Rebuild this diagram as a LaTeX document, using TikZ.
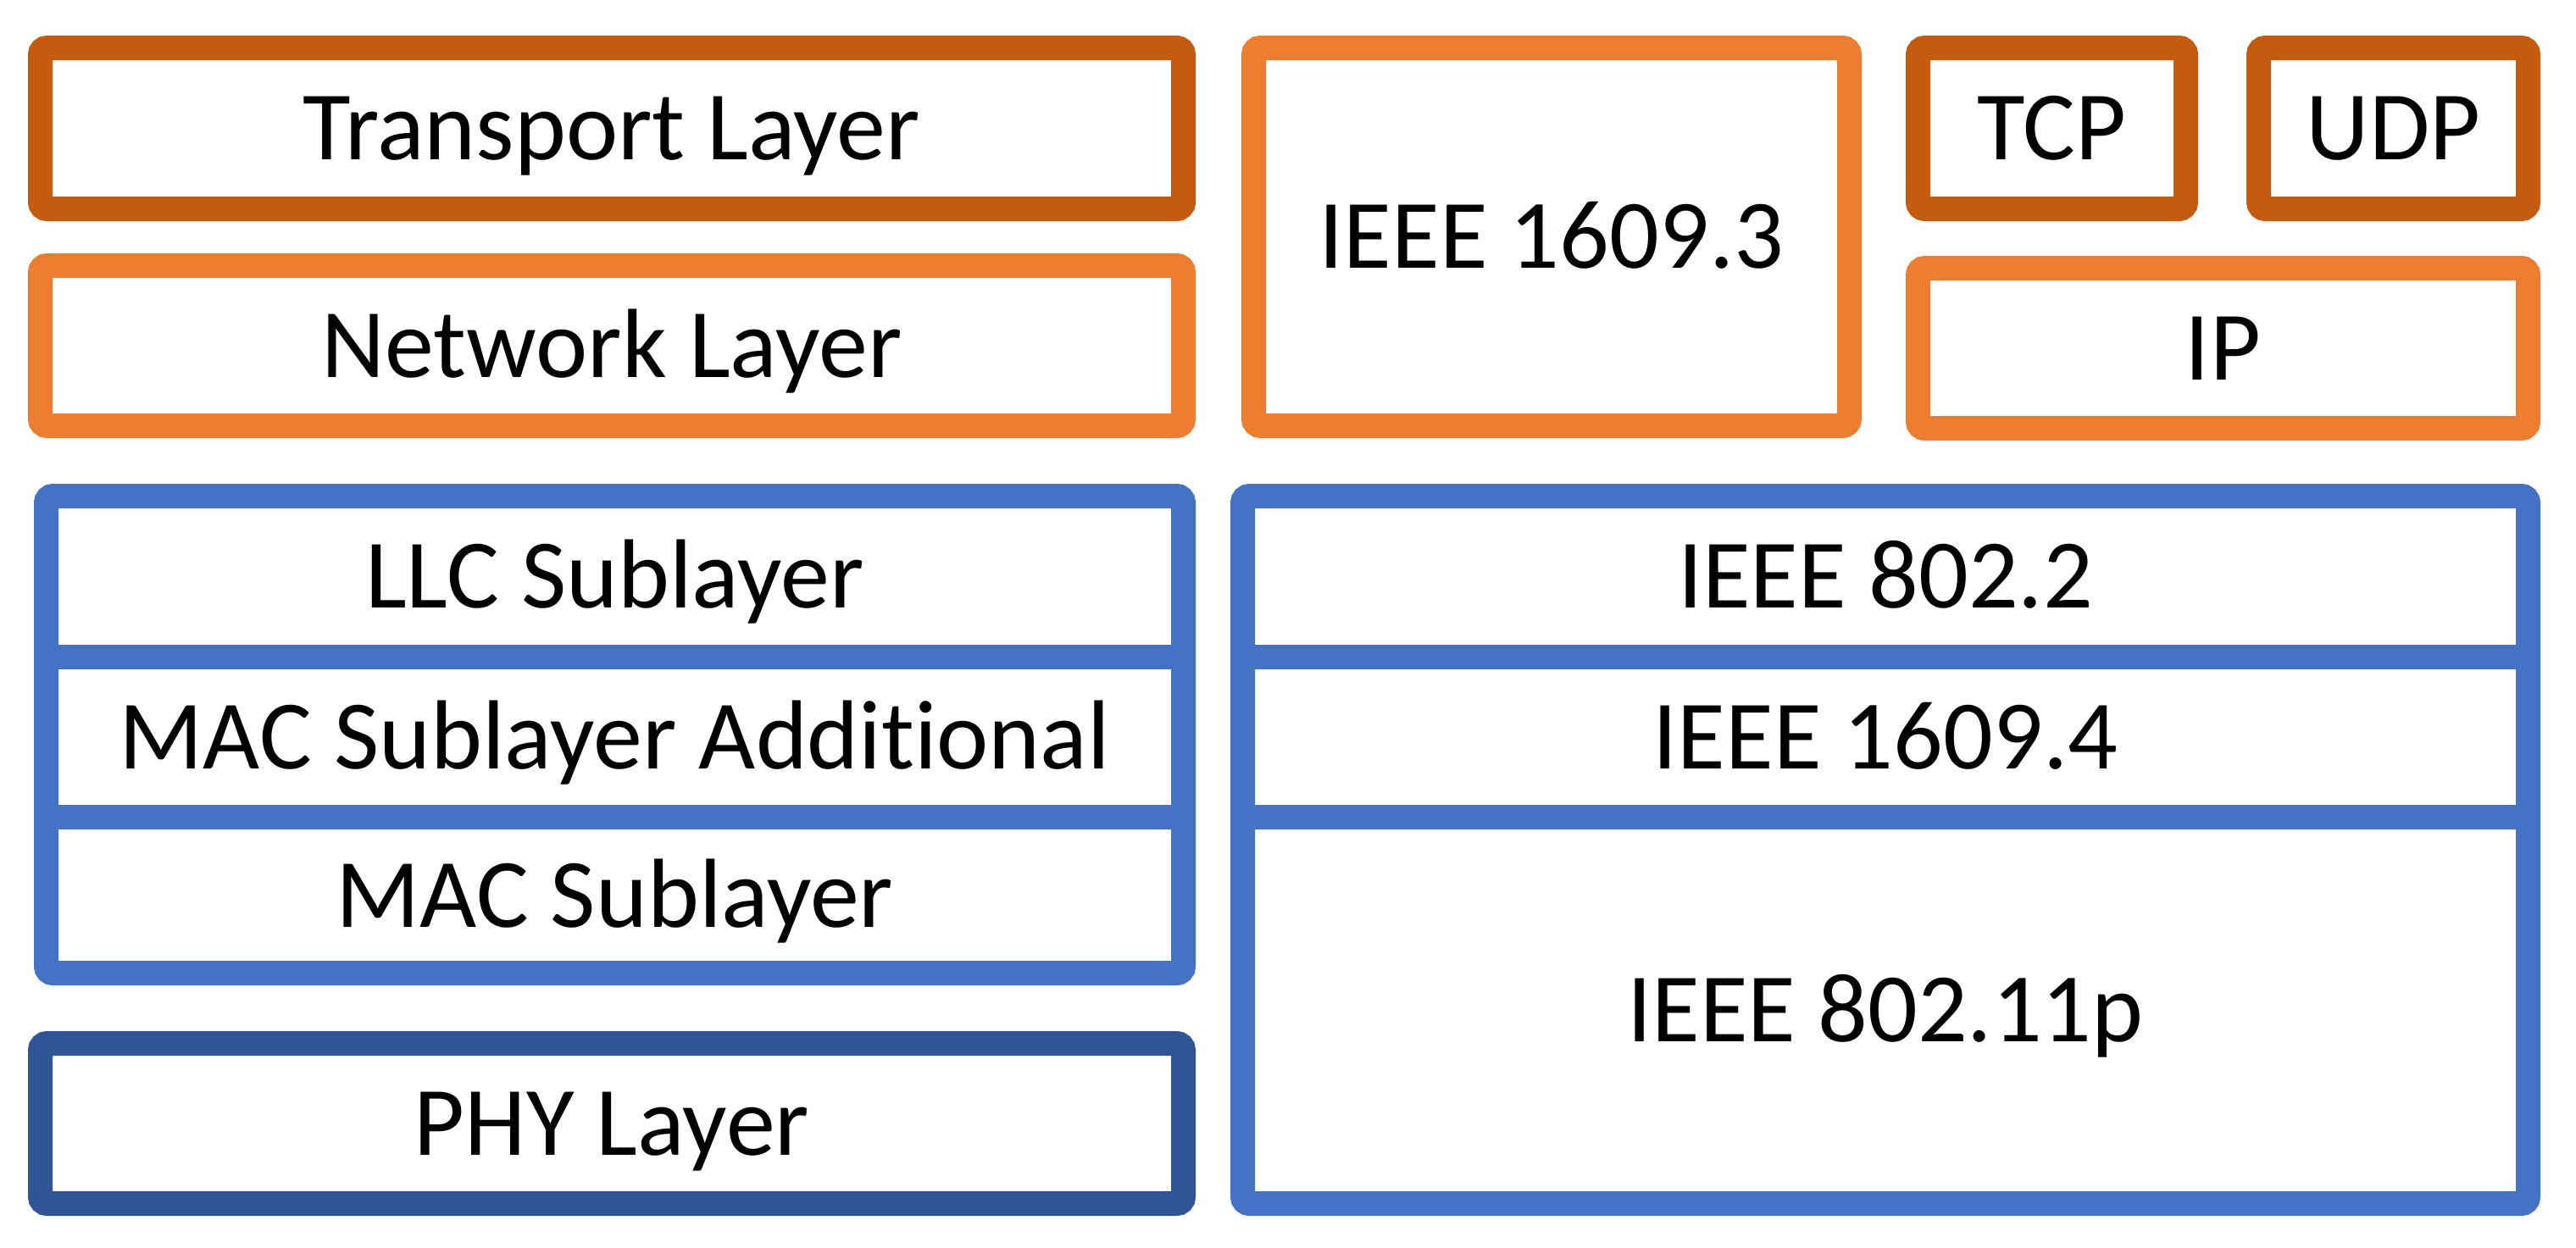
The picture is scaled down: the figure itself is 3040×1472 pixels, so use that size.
\documentclass[tikz,border=0pt]{standalone}
\usepackage{fontspec}
\setmainfont{Carlito}[Ligatures=NoCommon]
\usepackage{xcolor}

\definecolor{trorange}{HTML}{C55A11}
\definecolor{nworange}{HTML}{ED7D31}
\definecolor{macblue}{HTML}{4472C4}
\definecolor{phyblue}{HTML}{2F5597}

\tikzset{
  layerbox/.style={draw=#1, line width=7.25pt, rounded corners=2pt, outer sep=0pt, inner sep=0pt, fill=white},
  layertext/.style={inner sep=0pt, text height=18.7pt, text depth=0pt, font=\fontsize{29}{34}\selectfont},
  divider/.style={draw=#1, line width=7.25pt}
}

\begin{document}
\begin{tikzpicture}[x=0.25pt,y=0.25pt,yscale=-1,xscale=1]
\path[use as bounding box] (0,0) rectangle (3040,1472);

% upper layers
\node (transport) [layerbox=trorange, minimum width=337.25pt, minimum height=47.5pt] at (722,151.5) {};
\node (network) [layerbox=nworange, minimum width=337.25pt, minimum height=47.25pt] at (722,408) {};
\node (wsmp) [layerbox=nworange, minimum width=175.75pt, minimum height=111.5pt] at (1831,279.5) {};
\node (tcp) [layerbox=trorange, minimum width=79pt, minimum height=47.5pt] at (2421.5,151.5) {};
\node (udp) [layerbox=trorange, minimum width=79.5pt, minimum height=47.5pt] at (2824.5,151.5) {};
\node (ip) [layerbox=nworange, minimum width=180pt, minimum height=47.25pt] at (2623.5,411) {};

% lower layers
\node (linkleft) [layerbox=macblue, minimum width=335.5pt, minimum height=140.75pt] at (725.5,867) {};
\node (phy) [layerbox=phyblue, minimum width=337.25pt, minimum height=47.25pt] at (722,1326) {};
\node (linkright) [layerbox=macblue, minimum width=379.25pt, minimum height=208.75pt] at (2225,1003) {};

% sublayer dividers
\draw[divider=macblue] (linkleft.west |- 0,775) -- (linkleft.east |- 0,775);
\draw[divider=macblue] (linkleft.west |- 0,964) -- (linkleft.east |- 0,964);
\draw[divider=macblue] (linkright.west |- 0,775) -- (linkright.east |- 0,775);
\draw[divider=macblue] (linkright.west |- 0,964) -- (linkright.east |- 0,964);

% Text Nodes
\node (transporttext) [layertext] at (transport) {Transport Layer};
\node (networktext) [layertext] at (network) {Network Layer};
\node (wsmptext) [layertext] at (wsmp) {IEEE 1609.3};
\node (tcptext) [layertext] at (tcp) {TCP};
\node (udptext) [layertext] at (udp) {UDP};
\node (iptext) [layertext] at (ip) {IP};
\node (llc) [layertext] at (725.5,680) {LLC Sublayer};
\node (macadd) [layertext] at (725.5,870) {MAC Sublayer Additional};
\node (mac) [layertext] at (725.5,1057) {MAC Sublayer};
\node (phytext) [layertext] at (phy) {PHY Layer};
\node (llcstd) [layertext] at (2225,680) {IEEE 802.2};
\node (wavemac) [layertext] at (2225,870) {IEEE 1609.4};
\node (wavephy) [layertext] at (2225,1192) {IEEE 802.11p};

\end{tikzpicture}
\end{document}
